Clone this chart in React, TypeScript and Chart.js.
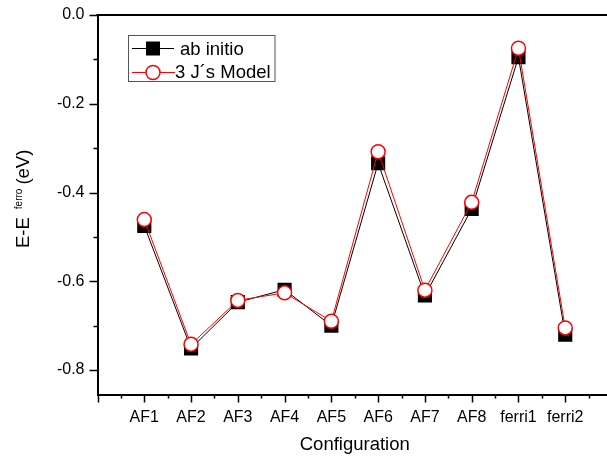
import React, { useEffect, useRef } from 'react';
import { Chart, registerables } from 'chart.js';

Chart.register(...registerables);

const FONT = "'Liberation Sans', Arial, sans-serif";

const categories = ['AF1', 'AF2', 'AF3', 'AF4', 'AF5', 'AF6', 'AF7', 'AF8', 'ferri1', 'ferri2'];
const abInitio = [-0.475, -0.751, -0.647, -0.619, -0.700, -0.334, -0.632, -0.437, -0.095, -0.720];
const jModel = [-0.461, -0.742, -0.643, -0.626, -0.690, -0.308, -0.620, -0.422, -0.075, -0.705];
const seriesLabels = ['ab initio', '3 J\u00B4s Model'];
const yMajorTicks = [0, -0.2, -0.4, -0.6, -0.8];
const yMinorTicks = [-0.1, -0.3, -0.5, -0.7];
const xMin = 0;
const xMax = 11;
const yMin = -0.855;
const yMax = 0;

const decor = {
  id: 'decor',
  afterDraw(chart: any) {
    const { ctx, chartArea, scales } = chart;
    const { left, right, top, bottom } = chartArea;
    const x = scales.x;
    const y = scales.y;
    ctx.save();
    ctx.strokeStyle = '#000';
    ctx.fillStyle = '#000';
    // top frame line
    ctx.lineWidth = 2;
    ctx.beginPath();
    ctx.moveTo(left - 1, top);
    ctx.lineTo(right, top);
    ctx.stroke();

    // y ticks
    ctx.lineWidth = 1.5;
    ctx.beginPath();
    yMajorTicks.forEach((v) => {
      const py = Math.round(y.getPixelForValue(v)) + 0.5;
      ctx.moveTo(left, py);
      ctx.lineTo(left - 8, py);
    });
    yMinorTicks.forEach((v) => {
      const py = Math.round(y.getPixelForValue(v)) + 0.5;
      ctx.moveTo(left, py);
      ctx.lineTo(left - 4, py);
    });
    // x ticks
    for (let i = 0; i <= categories.length; i++) {
      const px = Math.round(x.getPixelForValue(i)) + 0.5;
      ctx.moveTo(px, bottom);
      ctx.lineTo(px, bottom + 8);
      const pm = Math.round(x.getPixelForValue(i + 0.5)) + 0.5;
      ctx.moveTo(pm, bottom);
      ctx.lineTo(pm, bottom + 4);
    }
    ctx.stroke();

    // x title
    ctx.font = `18.5px ${FONT}`;
    ctx.textAlign = 'center';
    ctx.textBaseline = 'alphabetic';
    ctx.fillText('Configuration', (left + right) / 2, 450);

    // y title with superscript
    ctx.save();
    ctx.translate(29, 248);
    ctx.rotate(-Math.PI / 2);
    ctx.textAlign = 'left';
    ctx.font = `18.5px ${FONT}`;
    ctx.fillText('E-E', 0, 0);
    let cx = ctx.measureText('E-E').width + 8;
    ctx.font = `10px ${FONT}`;
    ctx.fillText('ferro', cx, -7);
    cx += ctx.measureText('ferro').width + 4;
    ctx.font = `18.5px ${FONT}`;
    ctx.fillText('(eV)', cx, 0);
    ctx.restore();

    // legend
    const ds = chart.data.datasets;
    ctx.lineWidth = 1;
    ctx.strokeStyle = '#555';
    ctx.strokeRect(128.5, 35.5, 146.5, 46);
    // entry 1
    ctx.strokeStyle = ds[0].borderColor;
    ctx.beginPath();
    ctx.moveTo(132, 48.5);
    ctx.lineTo(174, 48.5);
    ctx.stroke();
    ctx.fillStyle = ds[0].pointBackgroundColor;
    ctx.fillRect(146, 41.5, 14, 14);
    ctx.fillStyle = '#000';
    ctx.font = `18.5px ${FONT}`;
    ctx.textAlign = 'left';
    ctx.fillText(ds[0].label, 180, 55);
    // entry 2
    ctx.strokeStyle = ds[1].borderColor;
    ctx.beginPath();
    ctx.moveTo(132, 72.5);
    ctx.lineTo(175, 72.5);
    ctx.stroke();
    ctx.beginPath();
    ctx.arc(153, 72.5, 7, 0, Math.PI * 2);
    ctx.fillStyle = ds[1].pointBackgroundColor;
    ctx.fill();
    ctx.lineWidth = 1.5;
    ctx.strokeStyle = ds[1].pointBorderColor;
    ctx.stroke();
    ctx.fillStyle = '#000';
    ctx.fillText(ds[1].label, 175, 78);
    ctx.restore();
  },
};

const zeroPad = (s: any) => {
  s.paddingTop = 0;
  s.paddingBottom = 0;
  s.paddingLeft = 0;
  s.paddingRight = 0;
};

export default function App() {
  const ref = useRef<HTMLCanvasElement>(null);
  useEffect(() => {
    const canvas = ref.current!;
    const chart = new Chart(canvas, {
      type: 'line',
      data: {
        datasets: [
          {
            label: seriesLabels[0],
            data: abInitio.map((v, i) => ({ x: i + 1, y: v })),
            borderColor: '#000000',
            borderWidth: 1,
            pointStyle: 'rect',
            pointRadius: 10,
            pointBackgroundColor: '#000000',
            pointBorderColor: '#000000',
            pointBorderWidth: 0,
            order: 1,
          },
          {
            label: seriesLabels[1],
            data: jModel.map((v, i) => ({ x: i + 1, y: v })),
            borderColor: '#ff0000',
            borderWidth: 1,
            pointStyle: 'circle',
            pointRadius: 7,
            pointBackgroundColor: '#ffffff',
            pointBorderColor: '#ff0000',
            pointBorderWidth: 1.5,
            order: 0,
          },
        ],
      },
      options: {
        animation: false,
        responsive: false,
        devicePixelRatio: 1,
        layout: { autoPadding: false, padding: { top: 15, left: 0, right: 0, bottom: 0 } },
        plugins: { legend: { display: false }, tooltip: { enabled: false } },
        scales: {
          x: {
            type: 'linear',
            min: xMin,
            max: xMax,
            afterBuildTicks: (s: any) => {
              s.ticks = categories.map((_, i) => ({ value: i + 1 }));
            },
            afterFit: (s: any) => {
              s.height = 65.5;
              zeroPad(s);
            },
            ticks: {
              callback: (v: any) => categories[Math.round(Number(v)) - 1] ?? '',
              font: { family: FONT, size: 16 },
              color: '#000',
              padding: 13,
              maxRotation: 0,
              autoSkip: false,
            },
            grid: { display: false, drawTicks: false },
            border: { display: true, color: '#000', width: 2 },
          },
          y: {
            type: 'linear',
            min: yMin,
            max: yMax,
            afterBuildTicks: (s: any) => {
              s.ticks = yMajorTicks.map((v) => ({ value: v }));
            },
            afterFit: (s: any) => {
              s.width = 97.5;
              zeroPad(s);
            },
            ticks: {
              callback: (v: any) => (Math.abs(Number(v)) < 1e-9 ? '0.0' : Number(v).toFixed(1)),
              font: { family: FONT, size: 16 },
              color: '#000',
              padding: 13,
            },
            grid: { display: false, drawTicks: false },
            border: { display: true, color: '#000', width: 2 },
          },
        },
      },
      plugins: [decor],
    });
    return () => chart.destroy();
  }, []);

  return (
    <div style={{ position: 'absolute', left: 0, top: 0, width: 607, height: 460, overflow: 'hidden', background: '#fff' }}>
      <canvas ref={ref} width={612} height={460} style={{ width: 612, height: 460, display: 'block' }} />
    </div>
  );
}
